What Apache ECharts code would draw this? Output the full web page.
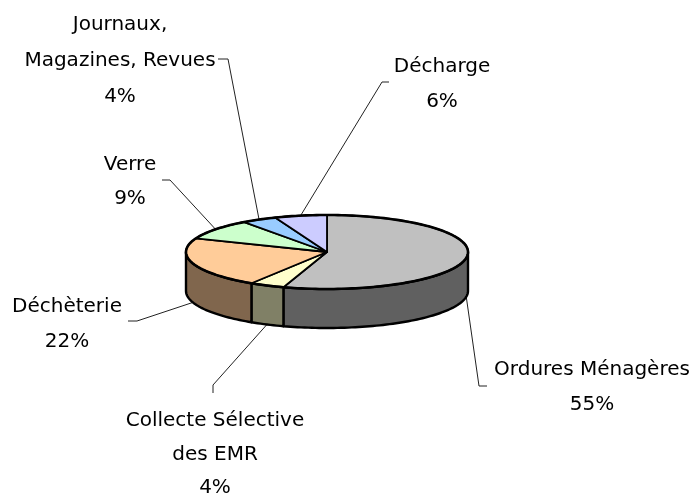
<!DOCTYPE html>
<html><head><meta charset="utf-8">
<script src="https://cdn.jsdelivr.net/npm/echarts/dist/echarts.min.js"></script>
<style>html,body{margin:0;padding:0;background:#fff}#c{width:696px;height:495px}</style>
</head><body><div id="c"></div>
<script>
// ---- data ----
const categories = ['Ordures Ménagères', 'Collecte Sélective\ndes EMR', 'Déchèterie', 'Verre', 'Journaux,\nMagazines, Revues', 'Décharge'];
const values = [55, 4, 22, 9, 4, 6];
const topColors = ['#c0c0c0', '#ffffcc', '#ffcc99', '#ccffcc', '#99ccff', '#ccccff'];
const sideColors = ['#606060', '#808066', '#80664d', '#668066', '#4d6680', '#666680'];

// ---- layout (pie centre / radii in px, label placement) ----
const CX = 327, CY = 252, RX = 141, RY = 37, DEPTH = 39;
const LINE_H = 35;
const labelLayout = [
  { x: 592, y: 370, elbow: [[479, 386], [487, 386]], lh: 35 },
  { x: 215, y: 421, elbow: [[213, 385], [213, 393]], lh: 33.5 },
  { x: 67,  y: 307, elbow: [[137, 321], [128, 321]], lh: 35 },
  { x: 130, y: 165, elbow: [[170, 180], [162, 180]], lh: 34 },
  { x: 120, y: 25,  elbow: [[228, 59], [218, 59]], lh: 36 },
  { x: 442, y: 67,  elbow: [[382, 82], [389, 82]], lh: 35 }
];

const total = values.reduce((a, b) => a + b, 0);
function pt(a, dy) {
  const r = a * Math.PI / 180;
  return [CX + RX * Math.sin(r), CY - RY * Math.cos(r) + (dy || 0)];
}
function arc(s, e, dy) {
  const n = Math.max(2, Math.ceil((e - s) / 1.5));
  const pts = [];
  for (let j = 0; j <= n; j++) pts.push(pt(s + (e - s) * j / n, dy));
  return pts;
}

function renderItem(params, api) {
  const i = params.dataIndex;
  let start = 0;
  for (let k = 0; k < i; k++) start += values[k];
  const v = api.value(0);
  const a0 = start / total * 360, a1 = (start + v) / total * 360;
  const children = [];
  // top face
  children.push({
    type: 'polygon', z2: 10,
    shape: { points: [[CX, CY]].concat(arc(a0, a1, 0)) },
    style: { fill: topColors[i], stroke: '#000', lineWidth: 1.8, lineJoin: 'round' }
  });
  children.push({
    type: 'polyline', z2: 11,
    shape: { points: arc(a0, a1, 0) },
    style: { fill: null, stroke: '#000', lineWidth: 2.6 }
  });
  // side (front half only)
  const s = Math.max(a0, 90), e = Math.min(a1, 270);
  if (e > s) {
    children.push({
      type: 'polygon', z2: 5,
      shape: { points: arc(s, e, 0).concat(arc(s, e, DEPTH).reverse()) },
      style: { fill: sideColors[i], stroke: '#000', lineWidth: 2.4, lineJoin: 'round' }
    });
  }
  // label
  const mid = (a0 + a1) / 2;
  const front = mid > 90 && mid < 270;
  const anchor = pt(mid, front ? DEPTH : 0);
  const L = labelLayout[i];
  children.push({
    type: 'polyline', z2: 3,
    shape: { points: [anchor].concat(L.elbow) },
    style: { fill: null, stroke: '#222', lineWidth: 1 }
  });
  const pct = Math.round(v / total * 100) + '%';
  children.push({
    type: 'text', z2: 20,
    x: L.x, y: L.y - L.lh / 2,
    style: {
      text: categories[i] + '\n' + pct,
      fill: '#000',
      font: '20px "DejaVu Sans"',
      align: 'center', textAlign: 'center',
      verticalAlign: 'top', textVerticalAlign: 'top',
      lineHeight: L.lh
    }
  });
  return { type: 'group', children: children };
}

const chart = echarts.init(document.getElementById('c'));
chart.setOption({
  animation: false,
  backgroundColor: '#fff',
  series: [{
    type: 'custom',
    coordinateSystem: 'none',
    renderItem: renderItem,
    data: values.map((v, i) => ({ name: categories[i], value: [v] }))
  }]
});
</script>
</body></html>
